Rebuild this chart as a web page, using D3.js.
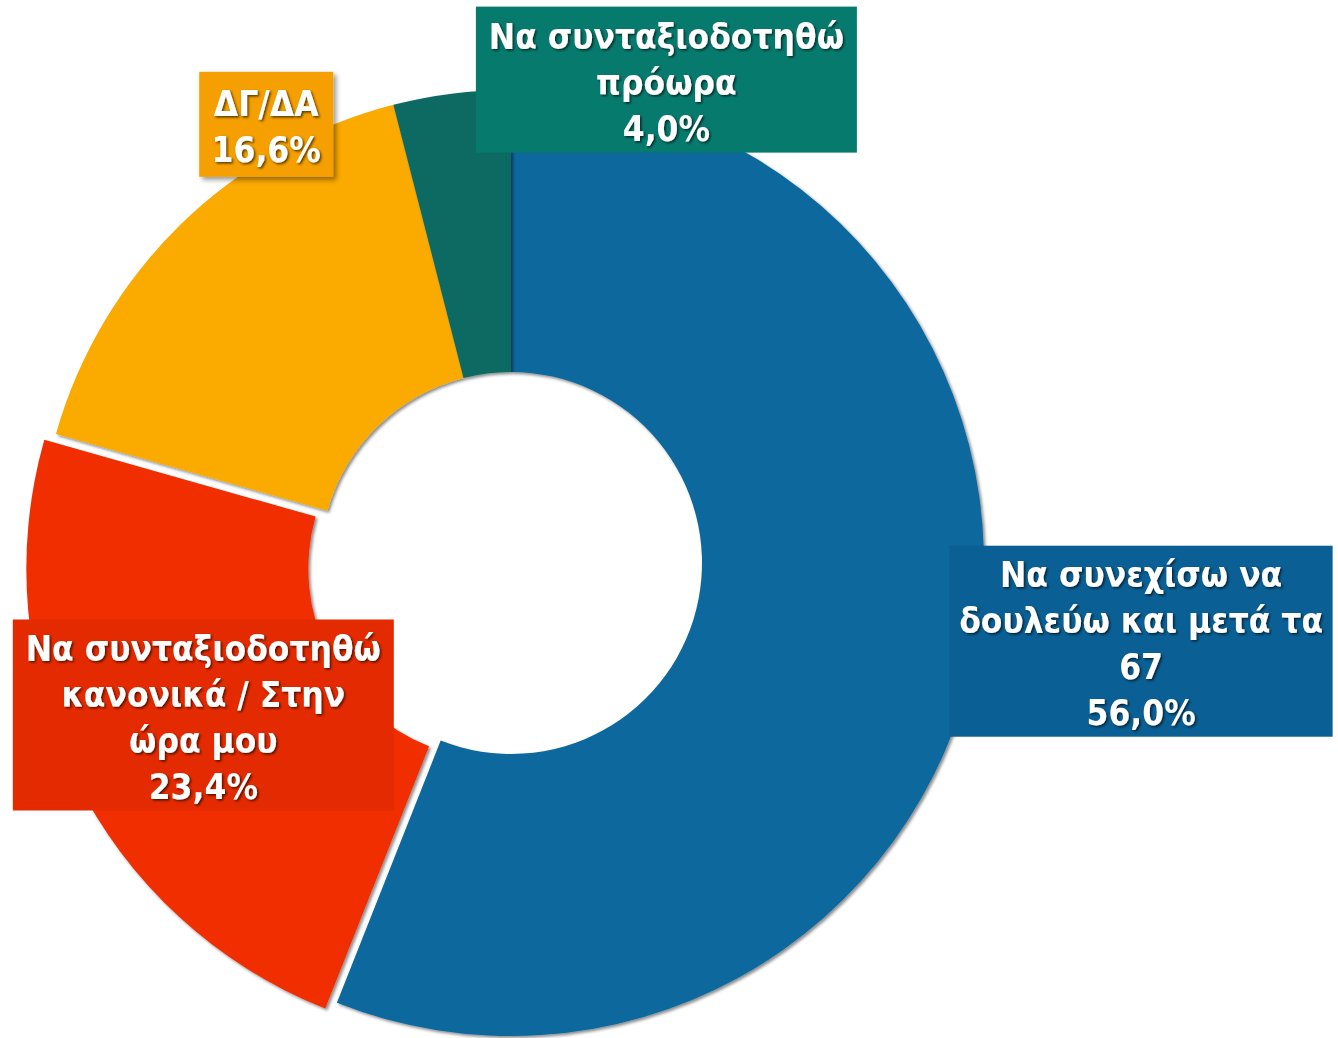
<!DOCTYPE html>
<html>
<head>
<meta charset="utf-8">
<script src="https://cdn.jsdelivr.net/npm/d3@7"></script>
<style>
  html, body { margin: 0; padding: 0; background: #fff; }
</style>
</head>
<body>
<div id="chart"></div>
<script>
// Datos
const categories = [
  "Να συνεχίσω να δουλεύω και μετά τα 67",
  "Να συνταξιοδοτηθώ κανονικά / Στην ώρα μου",
  "ΔΓ/ΔΑ",
  "Να συνταξιοδοτηθώ πρόωρα"
];
const values = [56.0, 23.4, 16.6, 4.0];
const labelLines = [
  ["Να συνεχίσω να", "δουλεύω και μετά τα", "67"],
  ["Να συνταξιοδοτηθώ", "κανονικά / Στην", "ώρα μου"],
  ["ΔΓ/ΔΑ"],
  ["Να συνταξιοδοτηθώ", "πρόωρα"]
];
const sliceColors = ["#0b679d", "#f02d06", "#fbaa06", "#0e6a62"];
const boxColors = ["#0a5f94", "#e42a00", "#f59f00", "#077a6e"];

// Layout de etiquetas (desplazamiento desde el centroide, tamaño de caja)
const labelLayout = [
  { dx: 304, dy: 16, w: 383, h: 191, shadow: false },
  { dx: -10, dy: 5, w: 381, h: 191, shadow: false },
  { dx: -13, dy: -201, w: 134, h: 105, shadow: true },
  { dx: 197, dy: -154, w: 381, h: 146, shadow: false }
];
const explode = [0, 13, 0, 0];

const width = 1338;
const height = 1038;
const cx = 511, cy = 563;
const outerR = 473, innerR = 191;
const lineH = 46;

const svg = d3.select("#chart").append("svg")
  .attr("width", width)
  .attr("height", height)
  .attr("viewBox", [0, 0, width, height]);

const defs = svg.append("defs");
defs.append("filter").attr("id", "sliceShadow")
  .attr("x", "-10%").attr("y", "-10%").attr("width", "120%").attr("height", "120%")
  .append("feDropShadow")
  .attr("dx", 2).attr("dy", 2).attr("stdDeviation", 1.8)
  .attr("flood-color", "#000").attr("flood-opacity", 0.45);
defs.append("filter").attr("id", "boxShadow")
  .attr("x", "-20%").attr("y", "-20%").attr("width", "140%").attr("height", "140%")
  .append("feDropShadow")
  .attr("dx", 3).attr("dy", 3).attr("stdDeviation", 2.5)
  .attr("flood-color", "#000").attr("flood-opacity", 0.4);
defs.append("filter").attr("id", "textShadow")
  .attr("x", "-10%").attr("y", "-20%").attr("width", "120%").attr("height", "140%")
  .append("feDropShadow")
  .attr("dx", 1.5).attr("dy", 1.5).attr("stdDeviation", 1.2)
  .attr("flood-color", "#000").attr("flood-opacity", 0.65);

const data = categories.map((c, i) => ({ name: c, value: values[i], i }));

const pie = d3.pie().sort(null).value(d => d.value);
const arcs = pie(data);
const arc = d3.arc().innerRadius(innerR).outerRadius(outerR);
const centroidArc = d3.arc().innerRadius((innerR + outerR) / 2).outerRadius((innerR + outerR) / 2);

const g = svg.append("g").attr("transform", `translate(${cx},${cy})`);

// Porciones
g.selectAll("path.slice")
  .data(arcs)
  .join("path")
  .attr("class", "slice")
  .attr("fill", d => sliceColors[d.data.i])
  .attr("filter", "url(#sliceShadow)")
  .attr("transform", d => {
    const a = (d.startAngle + d.endAngle) / 2;
    const e = explode[d.data.i];
    return `translate(${Math.sin(a) * e},${-Math.cos(a) * e})`;
  })
  .attr("d", arc);

// Etiquetas
const fmt = v => d3.format(".1f")(v).replace(".", ",") + "%";

const labels = g.selectAll("g.label")
  .data(arcs)
  .join("g")
  .attr("class", "label")
  .attr("transform", d => {
    const [x, y] = centroidArc.centroid(d);
    const L = labelLayout[d.data.i];
    return `translate(${x + L.dx},${y + L.dy})`;
  });

labels.append("rect")
  .attr("x", d => -labelLayout[d.data.i].w / 2)
  .attr("y", d => -labelLayout[d.data.i].h / 2)
  .attr("width", d => labelLayout[d.data.i].w)
  .attr("height", d => labelLayout[d.data.i].h)
  .attr("fill", d => boxColors[d.data.i])
  .attr("filter", d => labelLayout[d.data.i].shadow ? "url(#boxShadow)" : null);

labels.each(function (d) {
  const lines = labelLines[d.data.i].concat([fmt(d.data.value)]);
  const t = d3.select(this).append("text")
    .attr("text-anchor", "middle")
    .attr("fill", "#fff")
    .attr("font-family", "'DejaVu Sans Condensed', 'DejaVu Sans', sans-serif")
    .attr("font-stretch", "condensed")
    .attr("font-weight", "bold")
    .attr("font-size", 35)
    .attr("filter", "url(#textShadow)");
  const y0 = -(lines.length - 1) * lineH / 2 + 15;
  lines.forEach((s, k) => {
    t.append("tspan").attr("x", 0).attr("y", y0 + k * lineH).text(s);
  });
});
</script>
</body>
</html>
